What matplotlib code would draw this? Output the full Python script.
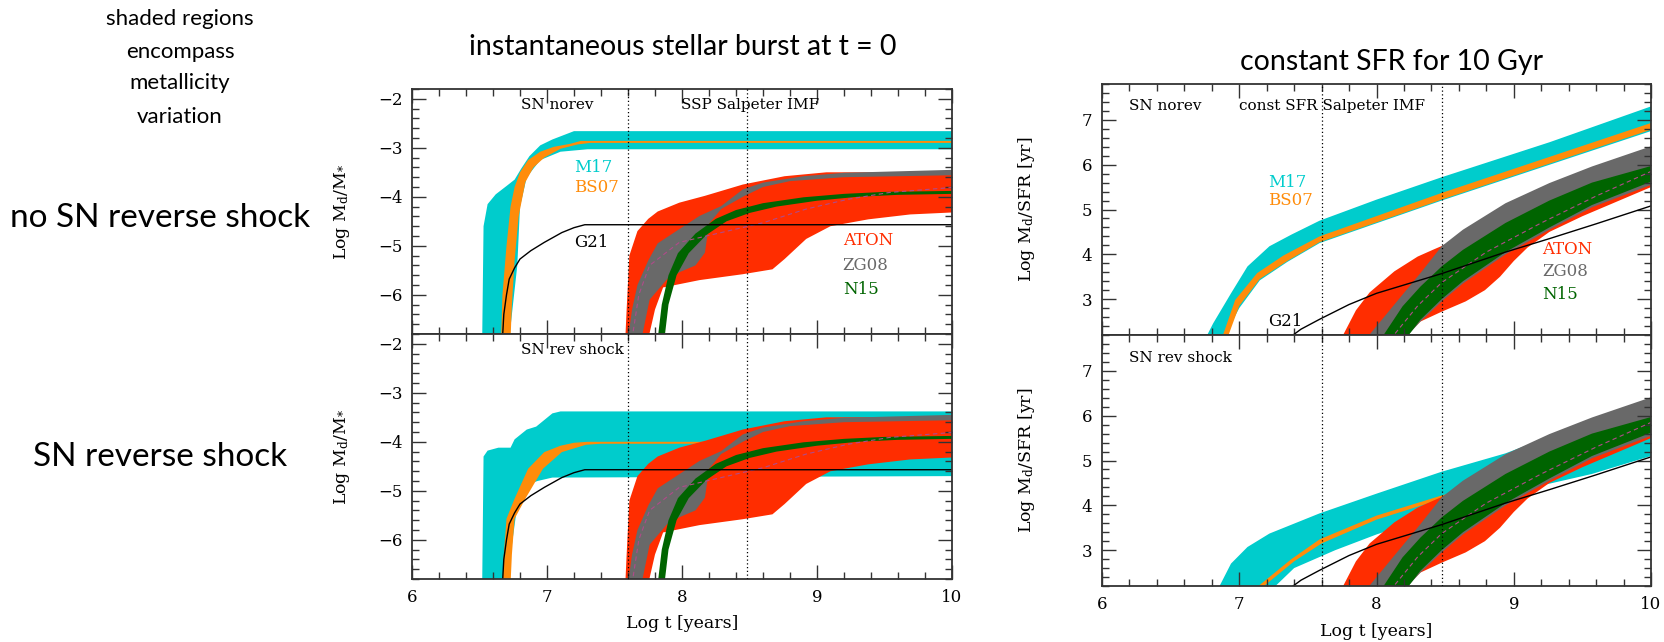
import numpy as np
import matplotlib
matplotlib.use('Agg')
import matplotlib.pyplot as plt
from matplotlib.ticker import MultipleLocator

plt.rcParams['font.family'] = 'DejaVu Serif'
plt.rcParams['mathtext.fontset'] = 'dejavuserif'

# colours of the model families
CYAN = '#00cccc'
ORANGE = '#ff8c0a'
RED = '#ff2d00'
GRAY = '#696969'
GREEN = '#006400'
MAGENTA = '#b04a8a'

# ---------------- instantaneous burst (SSP) ----------------
# M17, no reverse shock
m17_nr_up_x = [6.52, 6.53, 6.56, 6.62, 6.70, 6.76, 6.81, 6.87, 6.95, 7.04, 7.20, 10.0]
m17_nr_up_y = [-6.9, -4.6, -4.15, -3.95, -3.78, -3.65, -3.42, -3.17, -2.95, -2.83, -2.66, -2.66]
m17_nr_lo_x = [6.72, 6.78, 6.80, 6.85, 6.95, 7.10, 7.30, 10.0]
m17_nr_lo_y = [-6.9, -5.4, -4.2, -3.6, -3.25, -3.08, -3.03, -3.03]
# BS07, no reverse shock
bs07_nr_up_x = [6.66, 6.67, 6.70, 6.73, 6.76, 6.80, 6.86, 6.95, 7.05, 7.17, 7.25, 10.0]
bs07_nr_up_y = [-6.9, -6.0, -5.0, -4.2, -3.8, -3.5, -3.25, -3.08, -2.98, -2.92, -2.86, -2.86]
bs07_nr_lo_x = [6.73, 6.74, 6.76, 6.79, 6.84, 6.90, 6.98, 7.10, 7.23, 7.32, 10.0]
bs07_nr_lo_y = [-6.9, -6.2, -5.3, -4.4, -3.7, -3.4, -3.2, -3.02, -2.93, -2.90, -2.90]
# M17, reverse shock
m17_rs_up_x = [6.52, 6.53, 6.56, 6.64, 6.73, 6.76, 6.85, 6.92, 7.04, 7.10, 10.0]
m17_rs_up_y = [-6.9, -4.3, -4.18, -4.12, -4.12, -3.95, -3.75, -3.69, -3.42, -3.38, -3.38]
m17_rs_lo_x = [6.70, 6.78, 6.86, 6.93, 7.04, 10.0]
m17_rs_lo_y = [-6.9, -5.3, -4.87, -4.80, -4.73, -4.70]
# BS07, reverse shock
bs07_rs_up_x = [6.67, 6.68, 6.70, 6.76, 6.86, 6.98, 7.10, 7.20, 7.30, 10.0]
bs07_rs_up_y = [-6.9, -6.3, -5.57, -5.16, -4.55, -4.21, -4.08, -4.02, -4.00, -4.00]
bs07_rs_lo_x = [6.73, 6.74, 6.76, 6.84, 6.97, 7.11, 7.29, 7.40, 10.0]
bs07_rs_lo_y = [-6.9, -6.3, -5.57, -5.16, -4.55, -4.21, -4.06, -4.04, -4.04]
# G21 (same in both SSP panels)
g21_ssp_x = [6.67, 6.68, 6.70, 6.72, 6.76, 6.80, 6.88, 6.98, 7.11, 7.20, 7.28, 10.0]
g21_ssp_y = [-6.9, -6.4, -6.0, -5.68, -5.45, -5.27, -5.10, -4.93, -4.73, -4.63, -4.57, -4.57]
# AGB models (same in both SSP panels)
aton_ssp_up_x = [7.58, 7.59, 7.61, 7.67, 7.75, 7.82, 7.98, 8.17, 8.45, 8.76, 9.07, 10.0]
aton_ssp_up_y = [-6.9, -6.3, -5.2, -4.7, -4.45, -4.3, -4.12, -3.98, -3.75, -3.58, -3.5, -3.5]
aton_ssp_lo_x = [7.60, 7.75, 7.80, 7.86, 8.13, 8.45, 8.67, 8.76, 8.92, 9.10, 9.38, 9.69, 10.0]
aton_ssp_lo_y = [-6.9, -6.9, -6.3, -5.85, -5.7, -5.58, -5.48, -5.27, -4.86, -4.6, -4.46, -4.36, -4.32]
zg08_ssp_up_x = [7.60, 7.63, 7.67, 7.75, 7.82, 7.98, 8.13, 8.29, 8.45, 8.60, 8.90, 9.20, 10.0]
zg08_ssp_up_y = [-6.9, -6.3, -5.8, -5.3, -4.95, -4.66, -4.39, -4.19, -3.85, -3.71, -3.58, -3.51, -3.45]
zg08_ssp_lo_x = [7.70, 7.76, 7.89, 7.98, 8.10, 8.17, 8.20, 8.29, 8.45, 8.60, 8.80, 9.20, 10.0]
zg08_ssp_lo_y = [-6.9, -6.1, -5.68, -5.54, -5.4, -5.14, -4.55, -4.25, -4.0, -3.8, -3.68, -3.6, -3.56]
n15_ssp_up_x = [7.82, 7.85, 7.90, 7.97, 8.10, 8.25, 8.40, 8.60, 8.90, 9.20, 9.50, 10.0]
n15_ssp_up_y = [-6.9, -6.2, -5.6, -5.15, -4.75, -4.45, -4.27, -4.13, -4.01, -3.94, -3.90, -3.88]
n15_ssp_lo_x = [7.87, 7.90, 7.96, 8.05, 8.18, 8.33, 8.50, 8.70, 9.00, 9.30, 9.60, 10.0]
n15_ssp_lo_y = [-6.9, -6.2, -5.6, -5.15, -4.78, -4.5, -4.33, -4.2, -4.08, -4.0, -3.96, -3.94]
mid_ssp_x = [7.63, 7.68, 7.76, 7.98, 8.29, 8.60, 8.92, 9.23, 9.54, 10.0]
mid_ssp_y = [-6.9, -6.0, -5.4, -4.93, -4.73, -4.53, -4.25, -4.05, -3.91, -3.81]

# ---------------- constant SFR ----------------
m17_nr_sfr_up_x = [6.75, 6.81, 6.94, 7.06, 7.22, 7.38, 7.585, 8.0, 8.475, 9.26, 10.0]
m17_nr_sfr_up_y = [2.1, 2.46, 3.13, 3.73, 4.18, 4.44, 4.75, 5.22, 5.72, 6.5, 7.3]
m17_nr_sfr_lo_x = [6.88, 7.0, 7.15, 7.35, 7.585, 8.475, 10.0]
m17_nr_sfr_lo_y = [2.1, 2.8, 3.42, 3.83, 4.25, 5.2, 6.75]
bs07_nr_sfr_up_x = [6.87, 6.97, 7.13, 7.32, 7.585, 8.475, 10.0]
bs07_nr_sfr_up_y = [2.1, 2.98, 3.58, 3.97, 4.4, 5.37, 6.93]
bs07_nr_sfr_lo_x = [6.91, 7.0, 7.15, 7.35, 7.585, 8.475, 10.0]
bs07_nr_sfr_lo_y = [2.1, 2.85, 3.45, 3.85, 4.27, 5.22, 6.78]
m17_rs_sfr_up_x = [6.84, 6.94, 7.06, 7.22, 7.585, 8.0, 8.475, 8.94, 9.26, 9.6, 10.0]
m17_rs_sfr_up_y = [2.1, 2.7, 3.07, 3.37, 3.82, 4.26, 4.75, 5.16, 5.53, 5.8, 6.1]
m17_rs_sfr_lo_x = [7.23, 7.4, 7.7, 8.0, 8.5, 9.0, 9.57, 10.0]
m17_rs_sfr_lo_y = [2.1, 2.6, 3.0, 3.35, 3.85, 4.3, 4.7, 5.1]
bs07_rs_sfr_up_x = [7.10, 7.38, 7.585, 8.0, 8.475, 8.58]
bs07_rs_sfr_up_y = [2.1, 2.8, 3.24, 3.77, 4.22, 4.30]
bs07_rs_sfr_lo_x = [7.14, 7.4, 7.6, 8.0, 8.475, 8.58]
bs07_rs_sfr_lo_y = [2.1, 2.75, 3.15, 3.68, 4.14, 4.22]
g21_sfr_x = [7.37, 7.45, 7.585, 7.8, 8.0, 8.475, 8.94, 9.26, 9.6, 10.0]
g21_sfr_y = [2.15, 2.33, 2.55, 2.88, 3.13, 3.57, 4.05, 4.35, 4.68, 5.08]
aton_sfr_up_x = [7.74, 7.85, 7.95, 8.13, 8.30, 8.41, 8.6, 9.0, 9.5, 10.0]
aton_sfr_up_y = [2.1, 2.75, 3.15, 3.62, 3.95, 4.1, 4.35, 5.0, 5.6, 6.1]
aton_sfr_lo_x = [8.19, 8.32, 8.475, 8.65, 8.79, 8.90, 9.0, 9.1, 9.26, 9.5, 10.0]
aton_sfr_lo_y = [2.1, 2.5, 2.72, 2.95, 3.2, 3.5, 3.85, 4.15, 4.5, 4.85, 5.5]
zg08_sfr_up_x = [7.92, 8.16, 8.32, 8.475, 8.63, 8.94, 9.26, 9.57, 10.0]
zg08_sfr_up_y = [2.1, 2.99, 3.58, 4.18, 4.55, 5.14, 5.59, 5.96, 6.41]
zg08_sfr_lo_x = [8.2, 8.32, 8.475, 8.63, 8.94, 9.26, 9.57, 10.0]
zg08_sfr_lo_y = [2.1, 2.5, 2.95, 3.35, 4.0, 4.55, 5.05, 5.55]
n15_sfr_up_x = [8.03, 8.19, 8.32, 8.475, 8.63, 8.94, 9.26, 9.57, 10.0]
n15_sfr_up_y = [2.1, 2.84, 3.28, 3.73, 4.1, 4.7, 5.2, 5.6, 5.97]
n15_sfr_lo_x = [8.21, 8.32, 8.475, 8.63, 8.94, 9.26, 9.57, 10.0]
n15_sfr_lo_y = [2.1, 2.54, 3.0, 3.4, 4.05, 4.6, 5.1, 5.62]
mid_sfr_x = [8.1, 8.3, 8.475, 8.8, 9.2, 9.6, 10.0]
mid_sfr_y = [2.1, 2.85, 3.37, 4.05, 4.7, 5.3, 5.85]

# vertical reference ages (log yr)
t_marks = [7.6, 8.48]


def band(ax, ux, uy, lx, ly, color):
    xs = np.concatenate([ux, lx[::-1]])
    ys = np.concatenate([uy, ly[::-1]])
    ax.fill(xs, ys, color=color, lw=0)


def setup(ax, ylo, yhi, bottom):
    ax.set_xlim(6, 10)
    ax.set_ylim(ylo, yhi)
    ax.xaxis.set_major_locator(MultipleLocator(1))
    ax.xaxis.set_minor_locator(MultipleLocator(0.2))
    ax.yaxis.set_major_locator(MultipleLocator(1))
    ax.yaxis.set_minor_locator(MultipleLocator(0.2))
    ax.tick_params(which='both', direction='in', top=True, right=True,
                   labelsize=12, pad=7, width=1.0, color='#333333')
    ax.tick_params(which='major', length=10)
    ax.tick_params(which='minor', length=5)
    for s in ax.spines.values():
        s.set_linewidth(1.3)
        s.set_color('#333333')
    if not bottom:
        ax.tick_params(labelbottom=False)
    for t in t_marks:
        ax.axvline(t, color='k', ls=(0, (1, 2)), lw=0.9, zorder=5)


def ssp_panel(ax, rev, bottom):
    if rev:
        band(ax, m17_rs_up_x, m17_rs_up_y, m17_rs_lo_x, m17_rs_lo_y, CYAN)
        band(ax, bs07_rs_up_x, bs07_rs_up_y, bs07_rs_lo_x, bs07_rs_lo_y, ORANGE)
    else:
        band(ax, m17_nr_up_x, m17_nr_up_y, m17_nr_lo_x, m17_nr_lo_y, CYAN)
        band(ax, bs07_nr_up_x, bs07_nr_up_y, bs07_nr_lo_x, bs07_nr_lo_y, ORANGE)
    band(ax, aton_ssp_up_x, aton_ssp_up_y, aton_ssp_lo_x, aton_ssp_lo_y, RED)
    band(ax, zg08_ssp_up_x, zg08_ssp_up_y, zg08_ssp_lo_x, zg08_ssp_lo_y, GRAY)
    band(ax, n15_ssp_up_x, n15_ssp_up_y, n15_ssp_lo_x, n15_ssp_lo_y, GREEN)
    ax.plot(mid_ssp_x, mid_ssp_y, color=MAGENTA, ls=(0, (4, 3)), lw=0.8)
    ax.plot(g21_ssp_x, g21_ssp_y, color='k', lw=1.0)
    setup(ax, -6.8, -1.8, bottom)
    ax.set_yticks([-6, -5, -4, -3, -2])
    ax.text(-0.13, 0.5, r'Log M$_{\rm d}$/M$_{*}$', transform=ax.transAxes,
            rotation=90, ha='center', va='center', fontsize=12.5)
    if rev:
        ax.text(6.81, -2.12, 'SN rev shock', fontsize=11, va='center')
    else:
        ax.text(6.81, -2.12, 'SN norev', fontsize=11, va='center')
        ax.text(7.99, -2.12, 'SSP Salpeter IMF', fontsize=11, va='center')
        ax.text(7.2, -3.4, 'M17', color=CYAN, fontsize=12, va='center')
        ax.text(7.2, -3.81, 'BS07', color=ORANGE, fontsize=12, va='center')
        ax.text(7.2, -4.93, 'G21', color='k', fontsize=12, va='center')
        ax.text(9.19, -4.9, 'ATON', color=RED, fontsize=12, va='center')
        ax.text(9.19, -5.41, 'ZG08', color=GRAY, fontsize=12, va='center')
        ax.text(9.19, -5.9, 'N15', color=GREEN, fontsize=12, va='center')


def sfr_panel(ax, rev, bottom):
    if rev:
        band(ax, m17_rs_sfr_up_x, m17_rs_sfr_up_y, m17_rs_sfr_lo_x, m17_rs_sfr_lo_y, CYAN)
        band(ax, bs07_rs_sfr_up_x, bs07_rs_sfr_up_y, bs07_rs_sfr_lo_x, bs07_rs_sfr_lo_y, ORANGE)
    else:
        band(ax, m17_nr_sfr_up_x, m17_nr_sfr_up_y, m17_nr_sfr_lo_x, m17_nr_sfr_lo_y, CYAN)
        band(ax, bs07_nr_sfr_up_x, bs07_nr_sfr_up_y, bs07_nr_sfr_lo_x, bs07_nr_sfr_lo_y, ORANGE)
    band(ax, aton_sfr_up_x, aton_sfr_up_y, aton_sfr_lo_x, aton_sfr_lo_y, RED)
    band(ax, zg08_sfr_up_x, zg08_sfr_up_y, zg08_sfr_lo_x, zg08_sfr_lo_y, GRAY)
    band(ax, n15_sfr_up_x, n15_sfr_up_y, n15_sfr_lo_x, n15_sfr_lo_y, GREEN)
    ax.plot(mid_sfr_x, mid_sfr_y, color=MAGENTA, ls=(0, (4, 3)), lw=0.8)
    ax.plot(g21_sfr_x, g21_sfr_y, color='k', lw=1.0)
    setup(ax, 2.2, 7.8, bottom)
    ax.set_yticks([3, 4, 5, 6, 7])
    ax.text(-0.137, 0.5, r'Log M$_{\rm d}$/SFR [yr]', transform=ax.transAxes,
            rotation=90, ha='center', va='center', fontsize=12.5)
    if rev:
        ax.text(6.2, 7.29, 'SN rev shock', fontsize=11, va='center')
    else:
        ax.text(6.2, 7.31, 'SN norev', fontsize=11, va='center')
        ax.text(7.0, 7.31, 'const SFR Salpeter IMF', fontsize=11, va='center')
        ax.text(7.21, 5.6, 'M17', color=CYAN, fontsize=12, va='center')
        ax.text(7.21, 5.19, 'BS07', color=ORANGE, fontsize=12, va='center')
        ax.text(7.21, 2.5, 'G21', color='k', fontsize=12, va='center')
        ax.text(9.21, 4.1, 'ATON', color=RED, fontsize=12, va='center')
        ax.text(9.21, 3.61, 'ZG08', color=GRAY, fontsize=12, va='center')
        ax.text(9.21, 3.1, 'N15', color=GREEN, fontsize=12, va='center')


W, H = 1665, 642
fig = plt.figure(figsize=(W / 100, H / 100), dpi=100)


def px_axes(x0, y0, x1, y1):
    return fig.add_axes([x0 / W, 1 - y1 / H, (x1 - x0) / W, (y1 - y0) / H])


ax_ssp_top = px_axes(412, 89, 952, 334)
ax_ssp_bot = px_axes(412, 334, 952, 579)
ax_sfr_top = px_axes(1102, 84, 1651, 335)
ax_sfr_bot = px_axes(1102, 335, 1651, 586)

ssp_panel(ax_ssp_top, False, False)
ssp_panel(ax_ssp_bot, True, True)
sfr_panel(ax_sfr_top, False, False)
sfr_panel(ax_sfr_bot, True, True)

for ax in (ax_ssp_bot, ax_sfr_bot):
    ax.text(0.5, -0.18, 'Log t [years]', transform=ax.transAxes,
            ha='center', va='center', fontsize=12.5)

# titles and side annotations (slide text)
sans = 'Lato'
fig.text(683 / W, 1 - 47 / H, 'instantaneous stellar burst at t = 0',
         family=sans, fontsize=20.5, ha='center', va='center')
fig.text(1392 / W, 1 - 62 / H, 'constant SFR for 10 Gyr',
         family=sans, fontsize=20.5, ha='center', va='center')
for txt, yy in [('shaded regions', 19), ('encompass', 52),
                ('metallicity', 83), ('variation', 117)]:
    fig.text(180 / W, 1 - yy / H, txt, family=sans, fontsize=16,
             ha='center', va='center')
fig.text(160 / W, 1 - 218 / H, 'no SN reverse shock', family=sans,
         fontsize=24, ha='center', va='center')
fig.text(160 / W, 1 - 457 / H, 'SN reverse shock', family=sans,
         fontsize=24, ha='center', va='center')

fig.savefig('out.png', dpi=100)
